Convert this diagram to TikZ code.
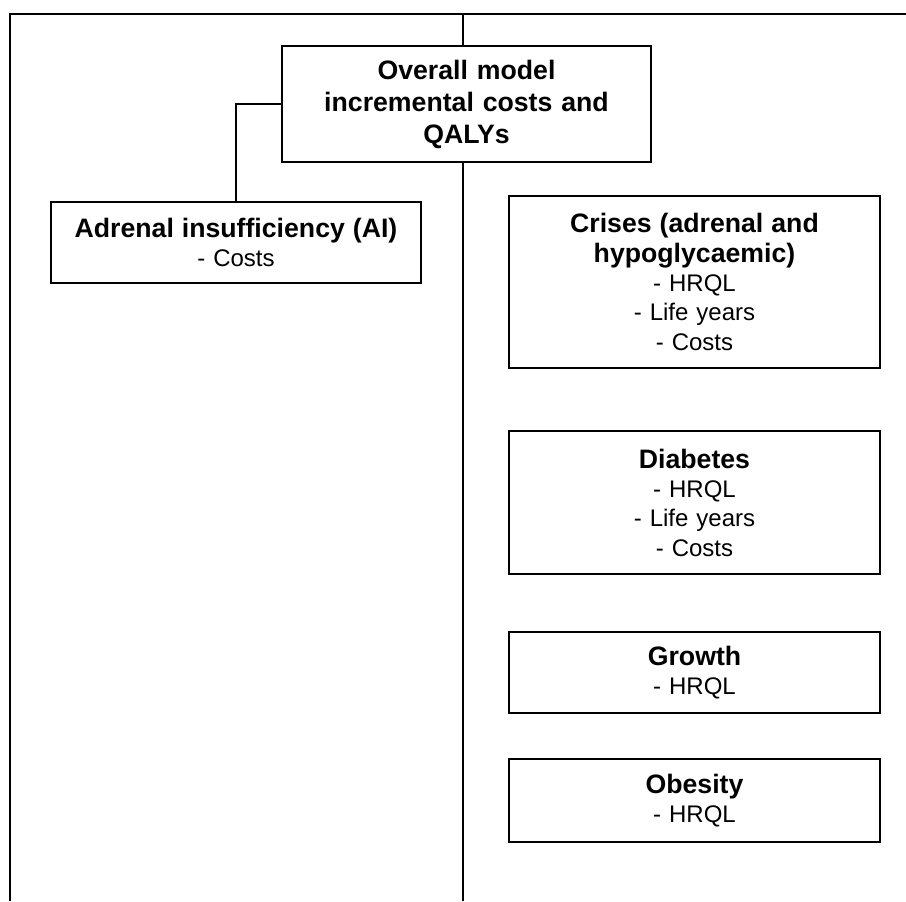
\documentclass[tikz,border=0pt]{standalone}
\usepackage{fontspec}
\setmainfont{Liberation Sans}
\usetikzlibrary{positioning}

\newcommand{\headfont}{\bfseries\fontsize{20}{22}\selectfont}

\begin{document}
\begin{tikzpicture}[
  x=0.75pt, y=-0.75pt,
  box/.style={draw, line width=1.5pt, fill=white, align=center, inner sep=0pt,
    text width=262pt, font=\fontsize{18}{22}\selectfont},
  rule/.style={line width=1.8pt},
  link/.style={line width=0.9pt}] % units are pixels of the 906 x 901 picture

  \useasboundingbox (0,0) rectangle (906,901);

  % frame round the page
  \coordinate (tl) at (10,14);
  \coordinate (tr) at (906,14);
  \coordinate (bl) at (10,901);
  \coordinate (top) at (463,14);
  \coordinate (bottom) at (463,901);
  \draw[rule] (bl) -- (tl) -- (tr);

  \node[box, minimum width=276.75pt, minimum height=87pt,
    font=\bfseries\fontsize{20}{24}\selectfont] (overall) at (466.5,104)
    {Overall model\\ incremental costs and\\ QALYs};

  \node[box, minimum width=277.5pt, minimum height=60.75pt] (ai) at (236,242.5)
    {{\headfont Adrenal insufficiency (AI)}\\ - Costs};

  \node[box, minimum width=278.25pt, minimum height=129pt] (crises) at (694.5,282)
    {{\headfont Crises (adrenal and\\ hypoglycaemic)}\\ - HRQL\\ - Life years\\ - Costs};
  \node[box, minimum width=278.25pt, minimum height=107.25pt, below=45.75pt of crises] (diabetes)
    {{\headfont Diabetes}\\ - HRQL\\ - Life years\\ - Costs};
  \node[box, minimum width=278.25pt, minimum height=60.75pt, below=42pt of diabetes] (growth)
    {{\headfont Growth}\\ - HRQL};
  \node[box, minimum width=278.25pt, minimum height=62.25pt, below=33pt of growth] (obesity)
    {{\headfont Obesity}\\ - HRQL};

  \draw[rule] (top) -- (overall.north -| top);
  \draw[rule] (overall.south -| top) -- (bottom);
  \draw[link] (overall.west) -| (ai.north);
\end{tikzpicture}
\end{document}
